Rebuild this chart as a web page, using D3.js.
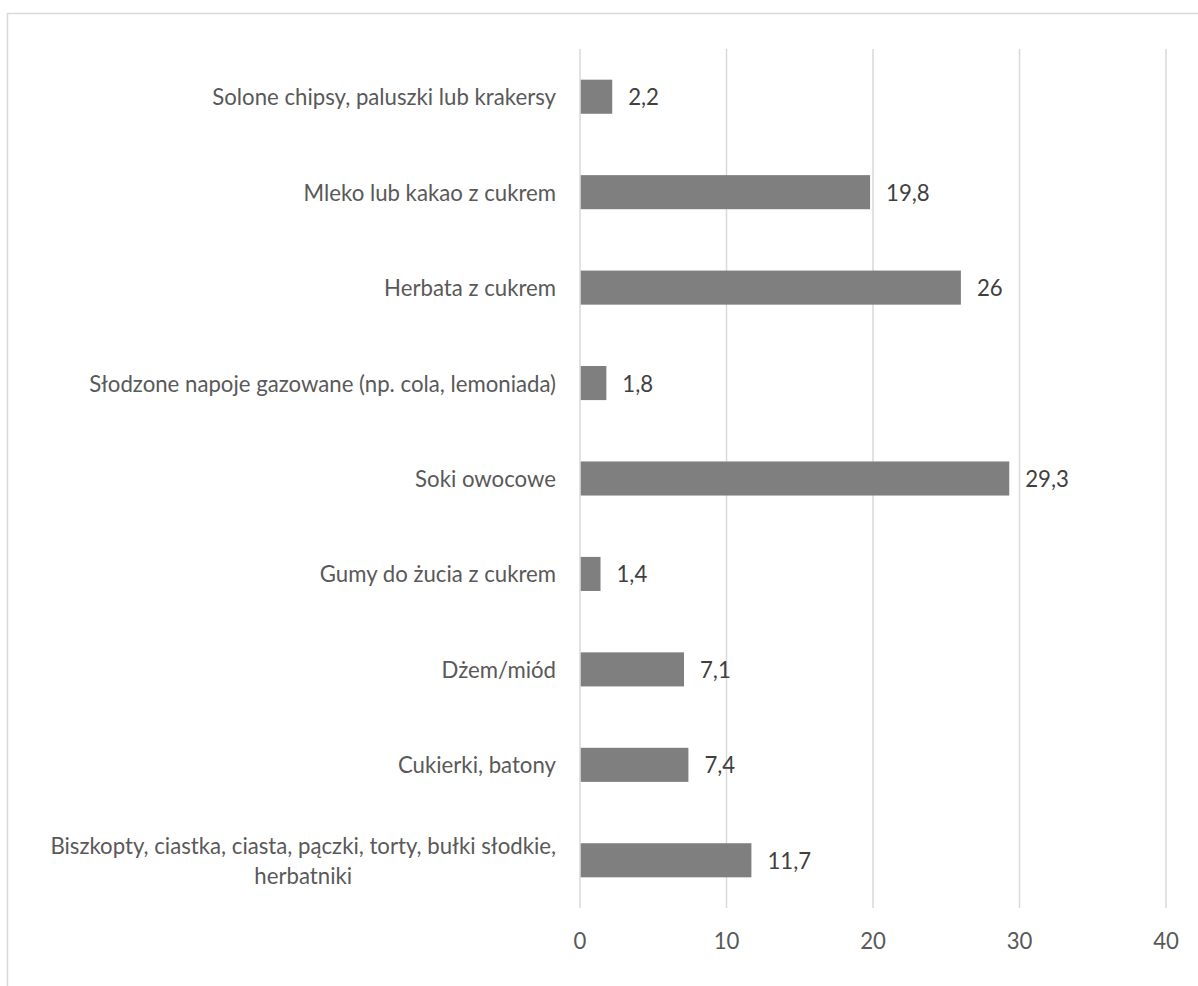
<!DOCTYPE html>
<html>
<head>
<meta charset="utf-8">
<script src="https://cdn.jsdelivr.net/npm/d3@7"></script>
<style>
html, body { margin: 0; padding: 0; background: #fff; }
svg { display: block; }
text { font-family: Lato, "Open Sans", sans-serif; }
</style>
</head>
<body>
<svg id="chart" width="1198" height="986"></svg>
<script>
const categories = [
  ["Solone chipsy, paluszki lub krakersy"],
  ["Mleko lub kakao z cukrem"],
  ["Herbata z cukrem"],
  ["Słodzone napoje gazowane (np. cola, lemoniada)"],
  ["Soki owocowe"],
  ["Gumy do żucia z cukrem"],
  ["Dżem/miód"],
  ["Cukierki, batony"],
  ["Biszkopty, ciastka, ciasta, pączki, torty, bułki słodkie,", "herbatniki"]
];
const values = [2.2, 19.8, 26, 1.8, 29.3, 1.4, 7.1, 7.4, 11.7];
const xTicks = [0, 10, 20, 30, 40];

const svg = d3.select("#chart");
const W = 1198, H = 986;
const plot = { left: 580, right: 1166, top: 49, bottom: 908 };
const FS = 22.2;

// outer frame
svg.append("rect")
  .attr("x", 7.5).attr("y", 13.5)
  .attr("width", W + 20).attr("height", H + 20)
  .attr("fill", "#fff").attr("stroke", "#d9d9d9").attr("stroke-width", 1.5);

const x = d3.scaleLinear().domain([0, 40]).range([plot.left, plot.right]);
const y = d3.scaleBand().domain(d3.range(categories.length))
  .range([plot.top, plot.bottom]).paddingInner(0.643).paddingOuter(0.3215);

const fmt = v => String(v).replace(".", ",");

// gridlines
svg.append("g").selectAll("line").data(xTicks).join("line")
  .attr("x1", d => x(d)).attr("x2", d => x(d))
  .attr("y1", plot.top).attr("y2", plot.bottom)
  .attr("stroke", "#d9d9d9").attr("stroke-width", 1.5);

// x tick labels
svg.append("g").selectAll("text").data(xTicks).join("text")
  .attr("x", d => x(d)).attr("y", 940)
  .attr("text-anchor", "middle").attr("dominant-baseline", "central")
  .attr("font-size", FS).attr("fill", "#595959")
  .text(d => d);

// bars
svg.append("g").selectAll("rect").data(values).join("rect")
  .attr("x", x(0) + 0.75)
  .attr("y", (d, i) => y(i))
  .attr("width", d => x(d) - x(0) - 0.75)
  .attr("height", y.bandwidth())
  .attr("fill", "#7f7f7f");

// value labels
svg.append("g").selectAll("text").data(values).join("text")
  .attr("x", d => x(d) + 16)
  .attr("y", (d, i) => y(i) + y.bandwidth() / 2)
  .attr("dominant-baseline", "central")
  .attr("font-size", FS).attr("fill", "#404040")
  .text(d => fmt(d));

// category labels
const catG = svg.append("g");
categories.forEach((lines, i) => {
  const cy = y(i) + y.bandwidth() / 2;
  const n = lines.length;
  const t = catG.append("text")
    .attr("font-size", FS).attr("fill", "#595959")
    .attr("dominant-baseline", "central");
  if (n === 1) {
    t.attr("x", 556).attr("y", cy).attr("text-anchor", "end").text(lines[0]);
  } else {
    t.attr("text-anchor", "middle");
    lines.forEach((ln, k) => {
      t.append("tspan").attr("y", cy + (k - (n - 1) / 2) * 30).text(ln);
    });
    const widths = [];
    t.selectAll("tspan").each(function() { widths.push(this.getComputedTextLength()); });
    const maxW = d3.max(widths);
    t.selectAll("tspan").attr("x", 556 - maxW / 2);
  }
});
</script>
</body>
</html>
